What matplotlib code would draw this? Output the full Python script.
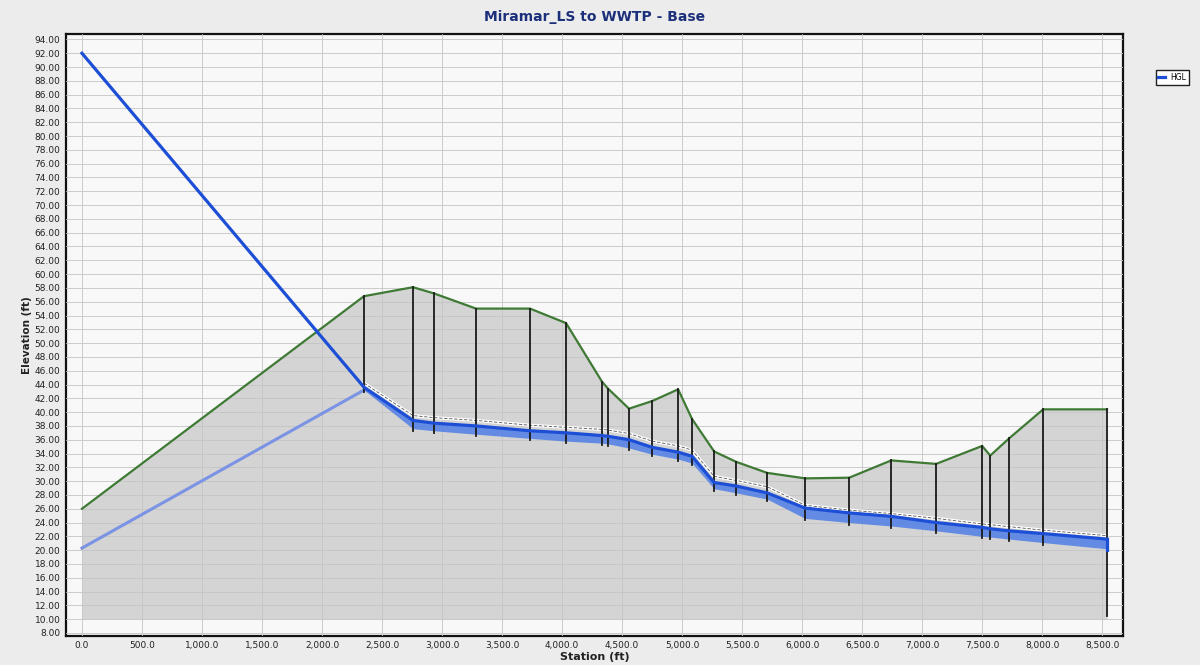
import numpy as np
import matplotlib
matplotlib.use("Agg")
import matplotlib.pyplot as plt
from matplotlib.ticker import MultipleLocator, FuncFormatter

# Ground profile (rim elevations along the alignment)
ground_sta = [0, 2350, 2758, 2933, 3283, 3733, 4033, 4333, 4383, 4558, 4750, 4967,
              5083, 5267, 5450, 5708, 6025, 6392, 6742, 7117, 7500, 7567, 7725, 8008, 8540]
ground_elev = [26.0, 56.8, 58.1, 57.2, 55.0, 55.0, 52.9, 44.4, 43.4, 40.5, 41.6, 43.3,
               39.0, 34.3, 32.8, 31.2, 30.4, 30.5, 33.0, 32.5, 35.1, 33.7, 36.2, 40.4, 40.4]

# Force main (lift station to first manhole)
fm_sta = [0, 2350]
fm_invert = [20.3, 43.2]
fm_hgl = [92.0, 43.6]

# Gravity sewer manholes
mh_sta = [2350, 2758, 2933, 3283, 3733, 4033, 4333, 4383, 4558, 4750, 4967,
          5083, 5267, 5450, 5708, 6025, 6392, 6742, 7117, 7500, 7567, 7725, 8008, 8540]
mh_rim = ground_elev[1:]
grav_invert = [43.2, 37.6, 37.3, 36.8, 36.2, 35.8, 35.5, 35.4, 34.8, 33.9, 33.2,
               32.6, 28.9, 28.3, 27.4, 24.6, 24.0, 23.5, 22.8, 22.0, 21.9, 21.6, 21.1, 20.2]
grav_crown = [44.2, 39.5, 39.2, 38.8, 38.1, 37.8, 37.5, 37.4, 36.9, 35.8, 35.1,
              34.5, 30.7, 30.1, 29.2, 26.5, 25.8, 25.3, 24.6, 23.8, 23.7, 23.4, 22.9, 22.1]
grav_hgl = [43.6, 38.8, 38.4, 38.0, 37.3, 37.0, 36.6, 36.5, 36.0, 34.9, 34.2,
            33.6, 29.8, 29.3, 28.3, 26.1, 25.4, 24.9, 24.0, 23.3, 23.1, 22.8, 22.4, 21.6]

fig = plt.figure(figsize=(12, 6.65), dpi=100, facecolor="#ececec")
ax = fig.add_axes([0.055, 0.044, 0.881, 0.905], facecolor="#f8f8f8")

# ground
ax.fill_between(ground_sta, 10, ground_elev, color="#d4d4d4", zorder=1, lw=0)
ax.plot(ground_sta, ground_elev, color="#3f7a35", lw=1.6, zorder=4)

# force main
ax.plot(fm_sta, fm_invert, color="#7b93e4", lw=2.2, zorder=4)

# gravity pipe: flow band, crown and HGL
ax.fill_between(mh_sta, grav_invert, grav_hgl, color="#4f7fe6", alpha=0.85, lw=0, zorder=3)
ax.plot(mh_sta, grav_crown, color="white", lw=2.2, zorder=3.5)
ax.plot(mh_sta, grav_crown, color="#555555", lw=0.6, ls=(0, (4, 2)), zorder=3.6)

# manholes
for s, rim, iv in zip(mh_sta, mh_rim, grav_invert):
    bottom = iv - 0.3 if s != mh_sta[-1] else 10.5
    ax.plot([s, s], [bottom, rim], color="#1a1a1a", lw=1.3, zorder=4.5)

# HGL
hgl_sta = fm_sta + mh_sta[1:]
hgl = fm_hgl + grav_hgl[1:]
ax.plot(hgl_sta, hgl, color="#1d4fd6", lw=2.3, zorder=5, label="HGL")
ax.plot([mh_sta[-1], mh_sta[-1]], [grav_hgl[-1], 20.0], color="#1d4fd6", lw=2.3, zorder=5)

ax.set_xlim(-133, 8675)
ax.set_ylim(7.6, 94.8)
ax.xaxis.set_major_locator(MultipleLocator(500))
ax.yaxis.set_major_locator(MultipleLocator(2))
ax.xaxis.set_major_formatter(FuncFormatter(lambda v, p: f"{v:,.1f}"))
ax.yaxis.set_major_formatter(FuncFormatter(lambda v, p: f"{v:.2f}"))
ax.set_axisbelow(False)
ax.grid(True, color="#c4c4c4", lw=0.6, zorder=2)
ax.tick_params(axis="both", labelsize=6.5, length=0, colors="#222222", pad=4)
for sp in ax.spines.values():
    sp.set_color("#111111")
    sp.set_linewidth(1.6)

ax.set_xlabel("Station (ft)", fontsize=8, fontweight="bold", color="#222222", labelpad=1)
ax.set_ylabel("Elevation (ft)", fontsize=7.5, fontweight="bold", color="#222222", labelpad=2)
ax.set_title("Miramar_LS to WWTP - Base", fontsize=10, fontweight="bold", color="#1c2f7a", pad=9)

fig.legend(loc="upper left", bbox_to_anchor=(0.960, 0.900), fontsize=5.5, frameon=True,
           fancybox=False, edgecolor="#222222", handlelength=0.9, borderpad=0.35,
           handletextpad=0.7, framealpha=1)

fig.savefig("out.png", dpi=100, facecolor=fig.get_facecolor())
